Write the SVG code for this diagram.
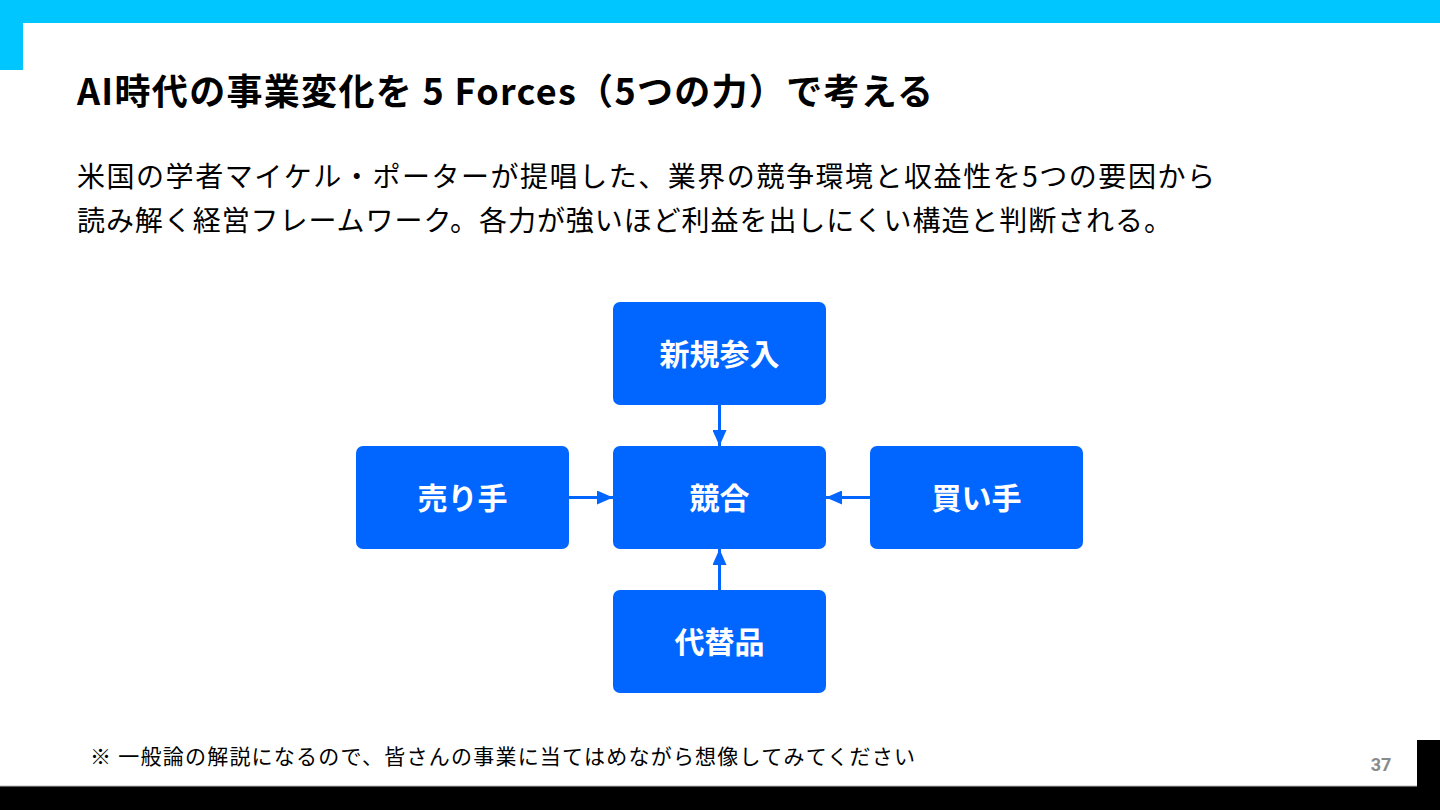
<svg xmlns="http://www.w3.org/2000/svg" width="1440" height="810" viewBox="0 0 1440 810">
<defs>
<style>
.title{font-family:"Noto Sans CJK JP","Noto Sans",sans-serif;font-weight:700;font-size:36px;fill:#000}
.body{font-family:"Noto Sans CJK JP","Noto Sans",sans-serif;font-size:28px;fill:#000}
.note{font-family:"Noto Sans CJK JP","Noto Sans",sans-serif;font-size:21px;fill:#000}
.node rect{fill:#0066FF}
.node text{font-family:"Noto Sans CJK JP","Noto Sans",sans-serif;font-weight:700;font-size:30px;fill:#fff;text-anchor:middle}
.conn line{stroke:#0066FF;stroke-width:3}
.pg{font-family:Roboto,"Liberation Sans",sans-serif;font-weight:700;font-size:18px;fill:#8a8a8a;text-anchor:middle}
</style>
<marker id="ah" markerWidth="16" markerHeight="14" viewBox="0 0 16 14" refX="16" refY="7" orient="auto" markerUnits="userSpaceOnUse">
<path d="M0,0 L16,7 L0,14 Z" fill="#0066FF"/>
</marker>
</defs>
<rect x="0" y="0" width="1440" height="810" fill="#fff"/>
<rect x="0" y="0" width="1440" height="23" fill="#00C6FF"/>
<rect x="0" y="0" width="23" height="70" fill="#00C6FF"/>
<rect x="0" y="786" width="1440" height="24" fill="#000"/>
<line x1="0" y1="786" x2="1440" y2="786" stroke="#bbb" stroke-width="1"/>
<rect x="1417" y="740" width="23" height="70" fill="#000"/>

<text class="title" x="77" y="105" textLength="856" lengthAdjust="spacing">AI時代の事業変化を 5 Forces（5つの力）で考える</text>
<text class="body" x="77" y="187" textLength="1138" lengthAdjust="spacing">米国の学者マイケル・ポーターが提唱した、業界の競争環境と収益性を5つの要因から</text>
<text class="body" x="77" y="231" textLength="1095" lengthAdjust="spacing">読み解く経営フレームワーク。各力が強いほど利益を出しにくい構造と判断される。</text>

<g class="conn">
<line x1="719.5" y1="405" x2="719.5" y2="446" marker-end="url(#ah)"/>
<line x1="569" y1="497.5" x2="613" y2="497.5" marker-end="url(#ah)"/>
<line x1="870" y1="497.5" x2="826" y2="497.5" marker-end="url(#ah)"/>
<line x1="719.5" y1="590" x2="719.5" y2="549" marker-end="url(#ah)"/>
</g>

<g id="node-entry" class="node"><rect x="613" y="302" width="213" height="103" rx="7"/><text x="719.5" y="365">新規参入</text></g>
<g id="node-rivalry" class="node"><rect x="613" y="446" width="213" height="103" rx="7"/><text x="719.5" y="509">競合</text></g>
<g id="node-supplier" class="node"><rect x="356" y="446" width="213" height="103" rx="7"/><text x="462.5" y="509">売り手</text></g>
<g id="node-buyer" class="node"><rect x="870" y="446" width="213" height="103" rx="7"/><text x="976.5" y="509">買い手</text></g>
<g id="node-substitute" class="node"><rect x="613" y="590" width="213" height="103" rx="7"/><text x="719.5" y="653">代替品</text></g>

<text class="note" x="90" y="764" textLength="825" lengthAdjust="spacing">※ 一般論の解説になるので、皆さんの事業に当てはめながら想像してみてください</text>
<text class="pg" x="1381" y="771">37</text>
</svg>
